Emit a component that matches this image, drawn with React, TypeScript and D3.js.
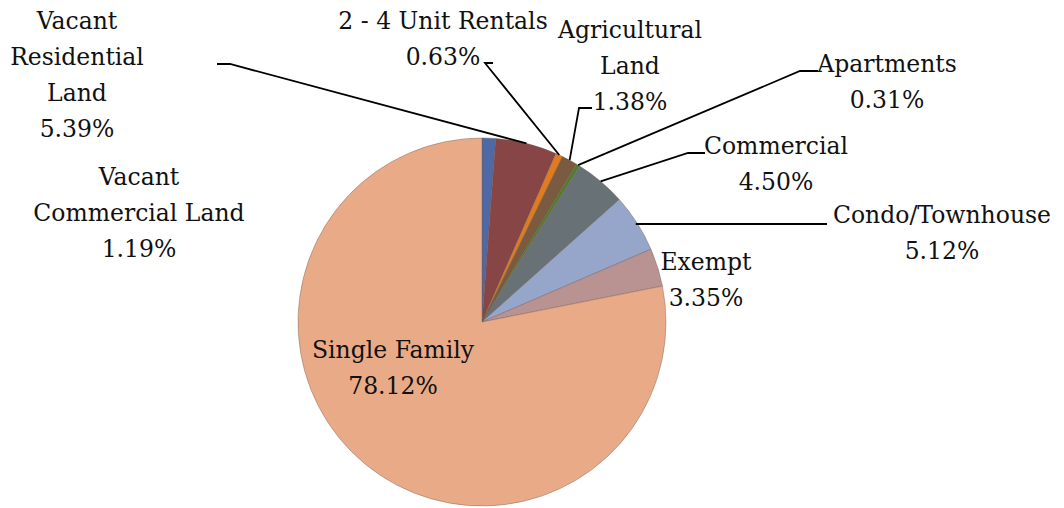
import * as d3 from "d3";
import React from "react";

const categories = [
  "Vacant Commercial Land",
  "Vacant Residential Land",
  "2 - 4 Unit Rentals",
  "Agricultural Land",
  "Apartments",
  "Commercial",
  "Condo/Townhouse",
  "Exempt",
  "Single Family",
];
const values = [1.19, 5.39, 0.63, 1.38, 0.31, 4.5, 5.12, 3.35, 78.12];
const colors = [
  "#4f69a7",
  "#884546",
  "#e07c1d",
  "#7b5b40",
  "#4f7e2b",
  "#687276",
  "#96a6cb",
  "#b99292",
  "#e9ab87",
];

// label layout: lines, center x, first baseline y, leader elbow (x1 -> x2 at y) or null
const labelLines = [
  ["Vacant", "Commercial Land"],
  ["Vacant", "Residential", "Land"],
  ["2 - 4 Unit Rentals"],
  ["Agricultural", "Land"],
  ["Apartments"],
  ["Commercial"],
  ["Condo/Townhouse"],
  ["Exempt"],
  ["Single Family"],
];
const labelPos = [
  [139, 185],
  [77, 29],
  [443, 29],
  [630, 38],
  [887, 72],
  [776, 154],
  [942, 223],
  [706, 270],
  [393, 358],
];
const leaders: ([number, number, number] | null)[] = [
  null,
  [217, 230, 64],
  [493, 485, 63],
  [592, 579, 108],
  [818, 800, 71],
  [705, 688, 153],
  [827, 827, 224],
  null,
  null,
];

const W = 1064;
const H = 508;
const cx = 482;
const cy = 322;
const R = 184;
const lineH = 36;

export default function App() {
  const pie = d3
    .pie<number>()
    .sort(null)
    .value((d) => d);
  const arcs = pie(values);
  const arc = d3.arc<d3.PieArcDatum<number>>().innerRadius(0).outerRadius(R);

  return (
    <svg
      width={W}
      height={H}
      style={{ position: "absolute", left: 0, top: 0, background: "#fff" }}
      fontFamily="'DejaVu Serif', serif"
      fontSize={23.5}
    >
      <g transform={`translate(${cx},${cy})`}>
        {arcs.map((a, i) => (
          <path
            key={categories[i]}
            d={arc(a) || ""}
            fill={colors[i]}
            stroke="rgba(110,90,80,0.4)"
            strokeWidth={1}
          />
        ))}
      </g>
      {arcs.map((a, i) => {
        const l = leaders[i];
        if (!l) return null;
        const mid = (a.startAngle + a.endAngle) / 2;
        let px = cx + R * Math.sin(mid);
        let py = cy - R * Math.cos(mid);
        if (l[0] === l[1]) {
          // straight horizontal leader: meet the rim at the elbow height
          py = l[2];
          px = cx + Math.sqrt(R * R - (py - cy) * (py - cy)) - 2;
        }
        return (
          <polyline
            key={"l" + i}
            points={`${l[0]},${l[2]} ${l[1]},${l[2]} ${px},${py}`}
            fill="none"
            stroke="#000"
            strokeWidth={1.8}
          />
        );
      })}
      {labelLines.map((lines, i) => {
        const [x, y] = labelPos[i];
        const all = [...lines, values[i].toFixed(2) + "%"];
        return (
          <text key={"t" + i} textAnchor="middle" fill="#111">
            {all.map((s, j) => (
              <tspan key={j} x={x} y={y + j * lineH}>
                {s}
              </tspan>
            ))}
          </text>
        );
      })}
    </svg>
  );
}
